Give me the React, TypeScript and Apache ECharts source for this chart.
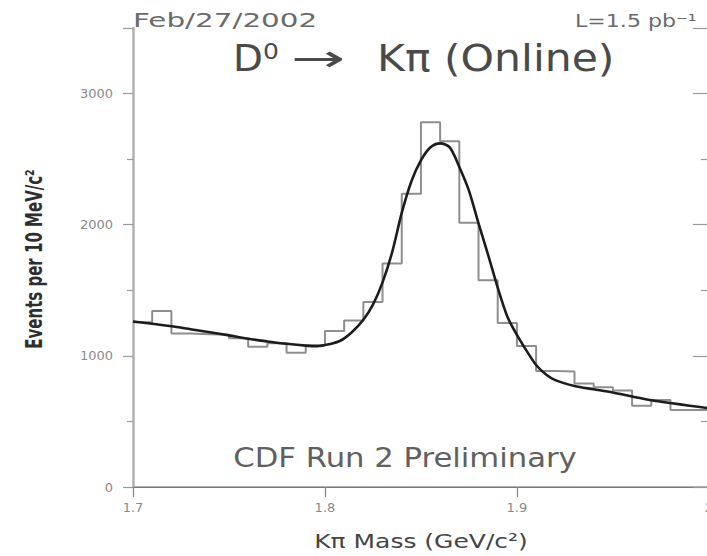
import React, { useEffect, useRef } from "react";
import * as echarts from "echarts";

// Histogram: lower bin edges (GeV/c^2) and events per 10 MeV/c^2
const binLow = [
  1.70, 1.71, 1.72, 1.73, 1.74, 1.75, 1.76, 1.77, 1.78, 1.79,
  1.80, 1.81, 1.82, 1.83, 1.84, 1.85, 1.86, 1.87, 1.88, 1.89,
  1.90, 1.91, 1.92, 1.93, 1.94, 1.95, 1.96, 1.97, 1.98, 1.99,
];
const binCounts = [
  1257, 1343, 1170, 1165, 1160, 1135, 1069, 1097, 1023, 1080,
  1190, 1270, 1411, 1704, 2237, 2782, 2637, 2015, 1577, 1250,
  1075, 885, 880, 790, 760, 735, 620, 663, 588, 588,
];

// Fit curve
const fitMass = [
  1.700, 1.710, 1.720, 1.730, 1.740, 1.750, 1.760, 1.770, 1.780, 1.790,
  1.796, 1.802, 1.808, 1.814, 1.820, 1.825, 1.830, 1.835, 1.840, 1.845,
  1.850, 1.855, 1.860, 1.865, 1.870, 1.875, 1.880, 1.885, 1.890, 1.895,
  1.900, 1.905, 1.910, 1.915, 1.920, 1.930, 1.940, 1.950, 1.960, 1.970,
  1.980, 1.990, 2.000,
];
const fitEvents = [
  1262, 1245, 1226, 1203, 1180, 1156, 1130, 1110, 1092, 1078,
  1074, 1088, 1115, 1180, 1275, 1390, 1560, 1790, 2090, 2330,
  2490, 2590, 2620, 2590, 2440, 2260, 2010, 1770, 1520, 1300,
  1160, 1040, 930, 860, 815, 770, 745, 720, 690, 662,
  640, 620, 600,
];

const xMin = 1.7;
const xMax = 2.0;
const xStep = 0.1;
const yMin = 0;
const yMax = 3500;
const yStep = 1000;

const dateText = "Feb/27/2002";
const lumiText = "L=1.5 pb⁻¹";
const titleParts = ["D⁰", "→", "Kπ (Online)"];
const prelimText = "CDF Run 2 Preliminary";
const xTitle = "Kπ Mass (GeV/c²)";
const yTitle = "Events per 10 MeV/c²";

const FONT = "DejaVu Sans";

export default function App() {
  const ref = useRef<HTMLDivElement>(null);

  useEffect(() => {
    if (!ref.current) return;
    const chart = echarts.init(ref.current, null, { renderer: "svg" });

    const histData: number[][] = binLow.map((x, i) => [x, binCounts[i]]);
    histData.push([xMax, binCounts[binCounts.length - 1]]);
    const fitData = fitMass.map((x, i) => [x, fitEvents[i]]);

    const labelStyle = {
      color: "#8a8a8a",
      fontFamily: FONT,
      fontSize: 13,
    };

    const txt = (
      text: string,
      x: number,
      y: number,
      size: number,
      fill: string,
      align: string,
      scaleX = 1,
      scaleY = 1,
      rotation = 0,
      weight = "normal"
    ) => ({
      type: "text",
      x,
      y,
      scaleX,
      scaleY,
      rotation,
      silent: true,
      style: {
        text,
        fill,
        font: `${weight} ${size}px "${FONT}"`,
        fontFamily: FONT,
        fontSize: size,
        fontWeight: weight,
        textAlign: align,
        align,
        textVerticalAlign: "middle",
        verticalAlign: "middle",
      },
    });

    chart.setOption({
      animation: false,
      backgroundColor: "#ffffff",
      grid: { left: 133, top: 28, width: 578, height: 459 },
      xAxis: [
        {
          type: "value",
          position: "bottom",
          min: xMin,
          max: xMax,
          interval: xStep,
          axisLine: { show: true, lineStyle: { color: "#9a9a9a", width: 1.5 } },
          axisTick: { show: true, length: 8, lineStyle: { color: "#9a9a9a", width: 1.2 } },
          axisLabel: {
            ...labelStyle,
            margin: 14,
            formatter: (v: number) => String(Math.round(v * 10) / 10),
          },
          splitLine: { show: false },
        },
        {
          type: "value",
          position: "top",
          min: xMin,
          max: xMax,
          interval: xStep,
          axisLine: { show: true, lineStyle: { color: "#7a7a7a", width: 1.2 } },
          axisTick: { show: true, inside: true, length: 10, lineStyle: { color: "#8a8a8a", width: 1.2 } },
          axisLabel: { show: false },
          splitLine: { show: false },
        },
      ],
      yAxis: [
        {
          type: "value",
          position: "left",
          min: yMin,
          max: yMax,
          interval: yStep,
          axisLine: { show: true, lineStyle: { color: "#b0b0b0", width: 2.5 } },
          axisTick: { show: true, length: 10, lineStyle: { color: "#9a9a9a", width: 1.2 } },
          minorTick: { show: true, splitNumber: 2, length: 6, lineStyle: { color: "#9a9a9a", width: 1.2 } },
          axisLabel: {
            ...labelStyle,
            margin: 20,
            showMaxLabel: false,
            formatter: (v: number) => String(v),
          },
          splitLine: { show: false },
        },
        {
          type: "value",
          position: "right",
          min: yMin,
          max: yMax,
          interval: yStep,
          axisLine: { show: true, lineStyle: { color: "#9a9a9a", width: 1.2 } },
          axisTick: { show: true, inside: true, length: 16, lineStyle: { color: "#9a9a9a", width: 1.2 } },
          minorTick: { show: true, splitNumber: 2, length: 8, lineStyle: { color: "#9a9a9a", width: 1.2 } },
          axisLabel: { show: false },
          splitLine: { show: false },
        },
      ],
      series: [
        {
          name: "data",
          type: "line",
          step: "end",
          xAxisIndex: 0,
          yAxisIndex: 0,
          data: histData,
          symbol: "none",
          lineStyle: { color: "#8e8e8e", width: 2 },
          z: 2,
        },
        {
          name: "fit",
          type: "line",
          smooth: 0.3,
          xAxisIndex: 0,
          yAxisIndex: 0,
          data: fitData,
          symbol: "none",
          lineStyle: { color: "#1c1c1c", width: 2.6 },
          z: 3,
        },
      ],
      graphic: [
        txt(dateText, 133, 20, 19, "#6a6a6a", "left", 1.55),
        txt(lumiText, 575, 21, 17, "#6a6a6a", "left", 1.3),
        txt(titleParts[0], 233, 58, 37, "#4a4a4a", "left", 1.05),
        txt(titleParts[1], 291, 58, 37, "#4a4a4a", "left", 1.75),
        txt(titleParts[2], 377, 58, 37, "#4a4a4a", "left", 1.15),
        txt(prelimText, 405, 458, 26, "#606060", "center", 1.18),
        txt(xTitle, 421, 541, 20, "#454545", "center", 1.25),
        txt(yTitle, 34, 259, 15, "#2e2e2e", "center", 1.0, 1.5, Math.PI / 2, "bold"),
      ],
    });

    return () => chart.dispose();
  }, []);

  return (
    <div
      style={{
        position: "absolute",
        left: 0,
        top: 0,
        width: 707,
        height: 556,
        overflow: "hidden",
      }}
    >
      <div ref={ref} style={{ width: 716, height: 556 }} />
    </div>
  );
}
